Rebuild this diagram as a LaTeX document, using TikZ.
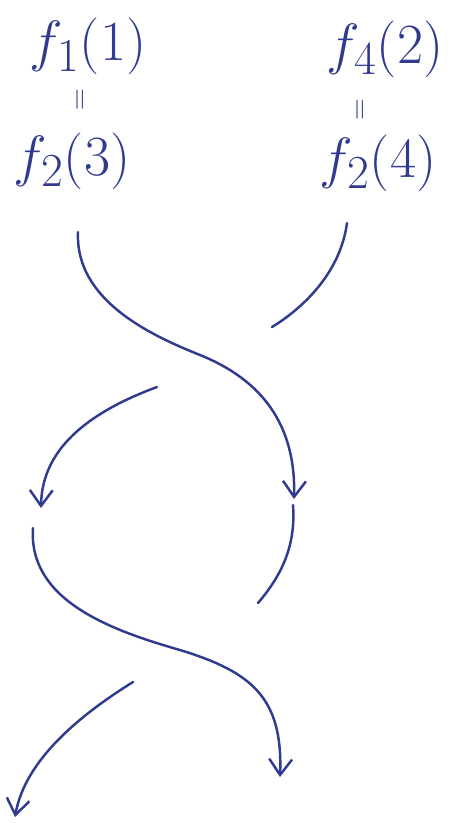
\documentclass[tikz,border=0pt]{standalone}
\usepackage{amsmath,amssymb}
\usepackage{graphicx}
\usepackage{tikz}
\usetikzlibrary{arrows.meta}
\usepackage{xcolor}
\definecolor{inkblue}{RGB}{48,58,142}
\newcommand{\bigval}[1]{\scalebox{1.3}{$#1$}}

\begin{document}
\begin{tikzpicture}[x=0.02cm, y=-0.02cm,
    value/.style={inkblue, font=\fontsize{24.88}{30}\selectfont},
    equal/.style={inkblue, rotate=90, font=\fontsize{17.28}{20}\selectfont},
    strand/.style={inkblue, line width=1.4pt, line cap=round},
    braid/.style={strand, -{Straight Barb[length=9pt,width=13pt,line width=1.4pt]}}
]
\useasboundingbox (0,0) rectangle (461,823);

% labels
\node[value] (f11) at (88,46) {\bigval{f_1(1)}};
\node[value] (f23) at (72,161) {\bigval{f_2(3)}};
\node[equal] (eqL) at (82,100) {$=$};
\node[value] (f42) at (385,49) {\bigval{f_4(2)}};
\node[value] (f24) at (378,163) {\bigval{f_2(4)}};
\node[equal] (eqR) at (362,110) {$=$};

% strand ends
\coordinate (a0) at (78,232);
\coordinate (a1) at (294,499);
\coordinate (b0) at (347,223);
\coordinate (b1) at (272,327);
\coordinate (b2) at (157,387);
\coordinate (b3) at (41,508);
\coordinate (c0) at (33,528);
\coordinate (c1) at (280,777);
\coordinate (d0) at (293,505);
\coordinate (d1) at (258,603);
\coordinate (d2) at (133,682);
\coordinate (d3) at (15,817);

% first crossing
\draw[braid] (a0) .. controls (75,300) and (150,335) .. (200,355)
    .. controls (262,380) and (296,425) .. (a1);
\draw[strand] (b0) .. controls (340,275) and (300,310) .. (b1);
\draw[braid] (b2) .. controls (95,410) and (42,445) .. (b3);

% second crossing
\draw[braid] (c0) .. controls (28,600) and (110,630) .. (180,650)
    .. controls (252,672) and (283,698) .. (c1);
\draw[strand] (d0) .. controls (296,545) and (282,575) .. (d1);
\draw[braid] (d2) .. controls (80,715) and (25,760) .. (d3);
\end{tikzpicture}
\end{document}
